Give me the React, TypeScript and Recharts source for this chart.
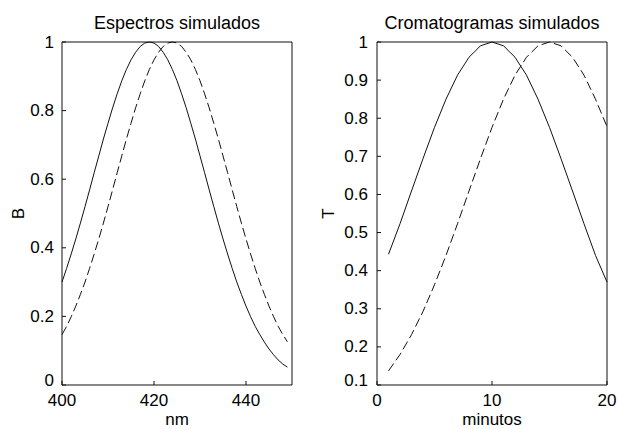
import React from "react";
import { LineChart, Line, XAxis, YAxis, Label } from "recharts";

// wavelengths (nm) and simulated spectra
const nm = [
  400, 401, 402, 403, 404, 405, 406, 407, 408, 409, 410, 411, 412, 413, 414, 415, 416, 417, 418, 419,
  420, 421, 422, 423, 424, 425, 426, 427, 428, 429, 430, 431, 432, 433, 434, 435, 436, 437, 438, 439,
  440, 441, 442, 443, 444, 445, 446, 447, 448, 449,
];
const espectroA = [
  0.3, 0.34, 0.382, 0.426, 0.472, 0.52, 0.569, 0.619, 0.668, 0.717, 0.763, 0.808, 0.849, 0.887, 0.92,
  0.948, 0.97, 0.987, 0.997, 1, 0.997, 0.987, 0.97, 0.948, 0.92, 0.887, 0.849, 0.808, 0.763, 0.717,
  0.668, 0.619, 0.569, 0.52, 0.472, 0.426, 0.382, 0.34, 0.3, 0.264, 0.23, 0.199, 0.171, 0.147, 0.125,
  0.105, 0.088, 0.073, 0.061, 0.052,
];
const espectroB = [
  0.147, 0.171, 0.199, 0.23, 0.264, 0.3, 0.34, 0.382, 0.426, 0.472, 0.52, 0.569, 0.619, 0.668, 0.717,
  0.763, 0.808, 0.849, 0.887, 0.92, 0.948, 0.97, 0.987, 0.997, 1, 0.997, 0.987, 0.97, 0.948, 0.92,
  0.887, 0.849, 0.808, 0.763, 0.717, 0.668, 0.619, 0.569, 0.52, 0.472, 0.426, 0.382, 0.34, 0.3, 0.264,
  0.23, 0.199, 0.171, 0.147, 0.126,
];

// retention time (minutos) and simulated chromatograms
const minutos = [1, 2, 3, 4, 5, 6, 7, 8, 9, 10, 11, 12, 13, 14, 15, 16, 17, 18, 19, 20];
const cromA = [
  0.443, 0.523, 0.609, 0.694, 0.776, 0.85, 0.913, 0.96, 0.99, 1, 0.99, 0.96, 0.913, 0.85, 0.776,
  0.694, 0.609, 0.523, 0.44, 0.37,
];
const cromB = [
  0.137, 0.18, 0.232, 0.293, 0.363, 0.44, 0.523, 0.609, 0.694, 0.776, 0.85, 0.913, 0.96, 0.99, 1,
  0.99, 0.96, 0.913, 0.85, 0.778,
];

const nmTicks = [400, 420, 440];
const bTicks = [0, 0.2, 0.4, 0.6, 0.8, 1];
const minTicks = [0, 10, 20];
const tTicks = [0.1, 0.2, 0.3, 0.4, 0.5, 0.6, 0.7, 0.8, 0.9, 1];

const espectros = nm.map((x, i) => ({ x, a: espectroA[i], b: espectroB[i] }));
const cromatogramas = minutos.map((x, i) => ({ x, a: cromA[i], b: cromB[i] }));

const FONT = "'Liberation Sans', Arial, Helvetica, sans-serif";
const INK = "#111";
const FS = 17;
const tickStyle = { fill: "#000", fontSize: FS, fontFamily: FONT };
const titleStyle = { fontSize: 18, fontFamily: FONT, fill: "#000" };
const labelStyle = { fontSize: FS, fontFamily: FONT, fill: "#000" };

// y tick text; the lowest one is lifted a little so it clears the x tick below it
function yTick(lowest: number) {
  return (props: any) => {
    const v = props.payload.value;
    const lift = v === lowest ? -5 : 0;
    return (
      <text
        x={props.x}
        y={props.y + lift}
        textAnchor="end"
        dominantBaseline="central"
        fontSize={FS}
        fontFamily={FONT}
        fill="#000"
      >
        {String(v)}
      </text>
    );
  };
}

function yLabel(text: string, dx: number) {
  return (props: any) => {
    const vb = props.viewBox || {};
    const cx = vb.x + dx;
    const cy = vb.y + vb.height / 2;
    return (
      <text
        x={cx}
        y={cy}
        transform={`rotate(-90 ${cx} ${cy})`}
        textAnchor="middle"
        dominantBaseline="central"
        fontSize={FS}
        fontFamily={FONT}
        fill="#000"
      >
        {text}
      </text>
    );
  };
}

interface PanelProps {
  data: any[];
  title: string;
  xLabel: string;
  yName: string;
  xDomain: [number, number];
  yDomain: [number, number];
  xTicks: number[];
  yTicks: number[];
  yAxisWidth: number;
  rightMargin: number;
  yLabelX: number;
  yTickMargin: number;
}

function Panel(p: PanelProps) {
  return (
    <LineChart
      width={309}
      height={429}
      data={p.data}
      margin={{ top: 41, right: p.rightMargin, bottom: 0, left: 0 }}
    >
      <XAxis
        dataKey="x"
        type="number"
        domain={p.xDomain}
        ticks={p.xTicks}
        interval={0}
        height={44}
        tickSize={-4}
        tickMargin={13}
        tick={tickStyle}
        fontSize={FS}
        stroke={INK}
        tickLine={{ stroke: INK }}
        axisLine={{ stroke: INK }}
      >
        <Label value={p.xLabel} position="insideBottom" offset={4} style={labelStyle} />
      </XAxis>
      {/* top frame edge with inward ticks, carries the title */}
      <XAxis
        xAxisId="t"
        dataKey="x"
        type="number"
        orientation="top"
        domain={p.xDomain}
        ticks={p.xTicks}
        interval={0}
        height={1}
        tickSize={-4}
        tick={false}
        stroke={INK}
        tickLine={{ stroke: INK }}
        axisLine={{ stroke: INK }}
      >
        <Label value={p.title} position="top" offset={12} style={titleStyle} />
      </XAxis>
      <YAxis
        type="number"
        domain={p.yDomain}
        ticks={p.yTicks}
        interval={0}
        width={p.yAxisWidth}
        tickSize={-4}
        tickMargin={p.yTickMargin}
        tick={yTick(p.yTicks[0])}
        stroke={INK}
        tickLine={{ stroke: INK }}
        axisLine={{ stroke: INK }}
        label={{ content: yLabel(p.yName, p.yLabelX) } as any}
      />
      {/* right frame edge with inward ticks */}
      <YAxis
        yAxisId="r"
        type="number"
        orientation="right"
        domain={p.yDomain}
        ticks={p.yTicks}
        interval={0}
        width={1}
        tickSize={-4}
        tick={false}
        stroke={INK}
        tickLine={{ stroke: INK }}
        axisLine={{ stroke: INK }}
      />
      <Line
        dataKey="a"
        type="linear"
        stroke={INK}
        strokeWidth={1}
        dot={false}
        isAnimationActive={false}
      />
      <Line
        dataKey="b"
        xAxisId="t"
        yAxisId="r"
        type="linear"
        stroke={INK}
        strokeWidth={1}
        strokeDasharray="9 4"
        dot={false}
        isAnimationActive={false}
      />
    </LineChart>
  );
}

export default function App() {
  return (
    <div
      style={{
        position: "absolute",
        left: 0,
        top: 0,
        width: 618,
        height: 429,
        background: "#fff",
        display: "flex",
      }}
    >
      <Panel
        data={espectros}
        title="Espectros simulados"
        xLabel="nm"
        yName="B"
        xDomain={[400, 450]}
        yDomain={[0, 1]}
        xTicks={nmTicks}
        yTicks={bTicks}
        yAxisWidth={62}
        rightMargin={16}
        yLabelX={18}
        yTickMargin={12}
      />
      <Panel
        data={cromatogramas}
        title="Cromatogramas simulados"
        xLabel="minutos"
        yName="T"
        xDomain={[0, 20]}
        yDomain={[0.1, 1]}
        xTicks={minTicks}
        yTicks={tTicks}
        yAxisWidth={68}
        rightMargin={10}
        yLabelX={19}
        yTickMargin={13}
      />
    </div>
  );
}
